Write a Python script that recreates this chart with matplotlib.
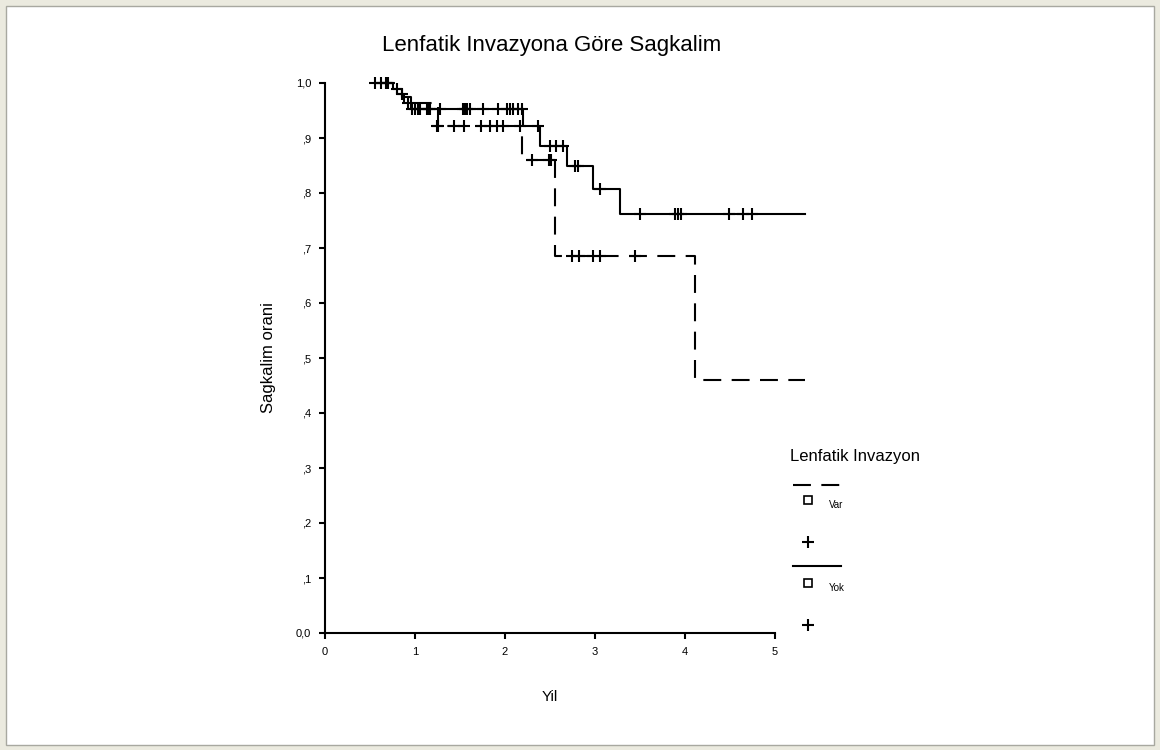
import matplotlib
matplotlib.use("Agg")
import matplotlib.pyplot as plt
from matplotlib.lines import Line2D
from matplotlib.patches import Rectangle

plt.rcParams["font.family"] = ["Liberation Sans", "DejaVu Sans"]

TITLE = "Lenfatik Invazyona Göre Sagkalim"
X_LABEL = "Yil"
Y_LABEL = "Sagkalim orani"
LEGEND_TITLE = "Lenfatik Invazyon"
GROUPS = ["Var", "Yok"]

X_TICKS = [0, 1, 2, 3, 4, 5]
Y_TICKS = [0.0, 0.1, 0.2, 0.3, 0.4, 0.5, 0.6, 0.7, 0.8, 0.9, 1.0]
Y_TICK_LABELS = ["0,0", ",1", ",2", ",3", ",4", ",5", ",6", ",7", ",8", ",9", "1,0"]

# Kaplan-Meier step curves (time in years, cumulative survival)
var_times = [0.58, 0.80, 0.88, 1.25, 2.19, 2.55, 4.11, 5.33]
var_surv = [1.000, 0.980, 0.963, 0.921, 0.860, 0.685, 0.460, 0.460]
yok_times = [0.58, 0.75, 0.85, 0.95, 2.20, 2.39, 2.69, 2.98, 3.28, 5.33]
yok_surv = [1.000, 0.990, 0.975, 0.952, 0.921, 0.885, 0.849, 0.807, 0.762, 0.762]

# Censored observations
var_cens_t = [0.62, 0.86, 0.92, 1.24, 1.25, 1.43, 1.54, 1.73, 1.83, 1.91, 1.98, 2.17,
              2.30, 2.49, 2.51, 2.74, 2.82, 2.98, 3.06, 3.44]
var_cens_s = [1.000, 0.980, 0.963, 0.921, 0.921, 0.921, 0.921, 0.921, 0.921, 0.921, 0.921, 0.921,
              0.860, 0.860, 0.860, 0.685, 0.685, 0.685, 0.685, 0.685]
yok_cens_t = [0.56, 0.68, 0.70, 0.80, 0.97, 1.00, 1.03, 1.06, 1.13, 1.15, 1.17, 1.28,
              1.53, 1.56, 1.58, 1.61, 1.76, 1.92, 2.02, 2.05, 2.09, 2.14, 2.19,
              2.37, 2.50, 2.57, 2.64, 2.78, 2.81, 3.06, 3.50, 3.89, 3.92, 3.96,
              4.49, 4.64, 4.74]
yok_cens_s = [1.000, 1.000, 1.000, 0.990, 0.952, 0.952, 0.952, 0.952, 0.952, 0.952, 0.952, 0.952,
              0.952, 0.952, 0.952, 0.952, 0.952, 0.952, 0.952, 0.952, 0.952, 0.952, 0.952,
              0.921, 0.885, 0.885, 0.885, 0.849, 0.849, 0.807, 0.762, 0.762, 0.762, 0.762,
              0.762, 0.762, 0.762]

W, H = 1160, 750
fig = plt.figure(figsize=(W / 100, H / 100), dpi=100)
fig.patch.set_facecolor("#ebeadf")

# white page with a thin grey frame
fig.add_artist(Rectangle((6 / W, 5 / H), (W - 12) / W, (H - 11) / H,
                         transform=fig.transFigure, facecolor="white",
                         edgecolor="#a8a8a0", linewidth=1.0, zorder=0))

ax = fig.add_axes([325 / W, (H - 633) / H, 450 / W, 550 / H])
ax.set_facecolor("none")
ax.set_xlim(0, 5)
ax.set_ylim(0, 1)

dash = (0, (8.6, 5.0))
mk = dict(linestyle="none", marker="+", markersize=8, markeredgewidth=1.5,
          color="black", clip_on=False)
ax.step(var_times, var_surv, where="post", color="black", lw=1.5,
        linestyle=dash, clip_on=False)
ax.step(yok_times, yok_surv, where="post", color="black", lw=1.5, clip_on=False)
ax.plot(var_cens_t, var_cens_s, **mk)
ax.plot(yok_cens_t, yok_cens_s, **mk)

for side in ["top", "right"]:
    ax.spines[side].set_visible(False)
for side in ["left", "bottom"]:
    ax.spines[side].set_linewidth(1.5)
ax.set_xticks(X_TICKS)
ax.set_yticks(Y_TICKS)
ax.set_yticklabels(Y_TICK_LABELS)
ax.tick_params(direction="out", length=4, width=1.5, labelsize=8, pad=6)

ax.set_xlabel(X_LABEL, fontsize=11, labelpad=24)
ax.set_ylabel(Y_LABEL, fontsize=12, labelpad=14)
fig.text(552 / W, 1 - 45 / H, TITLE, fontsize=16, ha="center", va="center")

# legend block drawn on a pixel-space overlay
lg = fig.add_axes([0, 0, 1, 1])
lg.set_xlim(0, W)
lg.set_ylim(H, 0)
lg.axis("off")
lg.patch.set_visible(False)
lg.text(790, 456, LEGEND_TITLE, fontsize=12, va="center", ha="left")
lg.add_line(Line2D([793, 840], [485, 485], color="black", lw=1.5, linestyle=dash))
lg.add_line(Line2D([793, 841], [566, 566], color="black", lw=1.5))
for y0, name in zip([500, 583], GROUPS):
    lg.plot(808, y0, marker="s", markersize=6, markerfacecolor="white",
            markeredgecolor="black", markeredgewidth=1.2)
    lg.text(829, y0 + 5, name, fontsize=7, va="center", ha="left")
for y0 in [542, 625]:
    lg.plot(808, y0, marker="+", markersize=9, markeredgewidth=1.5, color="black")

fig.savefig("out.png", dpi=100, facecolor=fig.get_facecolor())
